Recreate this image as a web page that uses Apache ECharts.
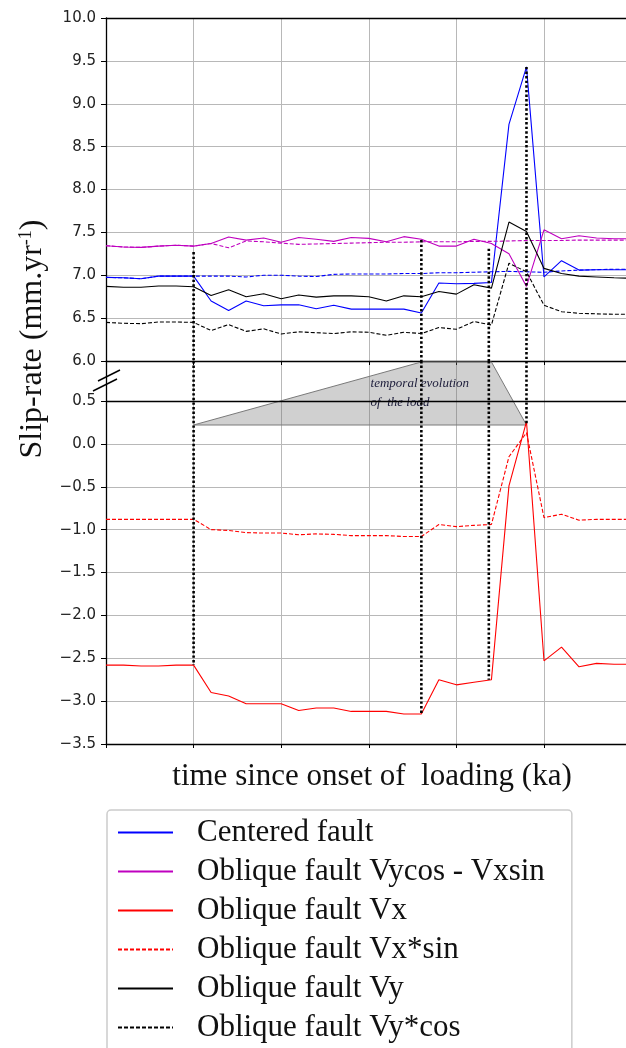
<!DOCTYPE html>
<html>
<head>
<meta charset="utf-8">
<script src="https://cdn.jsdelivr.net/npm/echarts@6/dist/echarts.min.js"></script>
<style>
html, body { margin: 0; padding: 0; background: #fff; }
#chart { width: 626px; height: 1048px; }
</style>
</head>
<body>
<div id="chart"></div>
<script>
// time since onset of loading (one grid cell = 1 step, no labels on the axis)
var times = [0.0, 0.2, 0.4, 0.6, 0.8, 1.0, 1.2, 1.4, 1.6, 1.8, 2.0, 2.2, 2.4, 2.6, 2.8, 3.0,
	3.2, 3.4, 3.6, 3.8, 4.0, 4.2, 4.4, 4.6, 4.8, 5.0, 5.2, 5.4, 5.6, 5.8, 6.0];

// upper panel (mm/yr)
var centered = [6.975, 6.97, 6.96, 6.99, 6.99, 6.99, 6.70, 6.59, 6.70, 6.645, 6.655, 6.655, 6.61, 6.65, 6.605, 6.605,
	6.605, 6.605, 6.56, 6.91, 6.90, 6.905, 6.915, 8.76, 9.43, 6.98, 7.17, 7.06, 7.065, 7.065, 7.065];
var centeredDash = [6.975, 6.97, 6.96, 6.99, 6.99, 6.99, 6.99, 6.99, 6.98, 7.0, 7.0, 6.99, 6.985, 7.01, 7.015, 7.015,
	7.015, 7.02, 7.02, 7.03, 7.03, 7.035, 7.04, 7.045, 7.04, 7.035, 7.05, 7.06, 7.065, 7.07, 7.07];
var obliqueVycos = [7.344, 7.33, 7.325, 7.34, 7.35, 7.34, 7.37, 7.446, 7.41, 7.435, 7.385, 7.44, 7.42, 7.395, 7.44, 7.43,
	7.39, 7.45, 7.42, 7.34, 7.34, 7.42, 7.37, 7.25, 6.87, 7.53, 7.425, 7.46, 7.435, 7.425, 7.425];
var obliqueVycosDash = [7.344, 7.33, 7.325, 7.34, 7.35, 7.34, 7.37, 7.32, 7.40, 7.39, 7.375, 7.36, 7.365, 7.37, 7.375, 7.38,
	7.385, 7.385, 7.39, 7.39, 7.39, 7.395, 7.395, 7.40, 7.405, 7.405, 7.405, 7.41, 7.41, 7.41, 7.41];
var obliqueVy = [6.87, 6.86, 6.86, 6.875, 6.875, 6.866, 6.765, 6.83, 6.75, 6.785, 6.726, 6.77, 6.745, 6.76, 6.76, 6.75,
	6.70, 6.76, 6.75, 6.81, 6.78, 6.89, 6.85, 7.62, 7.51, 7.08, 7.02, 6.99, 6.98, 6.97, 6.965];
var obliqueVyCos = [6.45, 6.44, 6.435, 6.455, 6.455, 6.45, 6.355, 6.425, 6.345, 6.375, 6.315, 6.34, 6.33, 6.32, 6.34, 6.335,
	6.30, 6.335, 6.32, 6.39, 6.37, 6.46, 6.42, 7.14, 7.04, 6.65, 6.575, 6.556, 6.55, 6.545, 6.545];

// lower panel (mm/yr)
var obliqueVx = [-2.58, -2.58, -2.59, -2.59, -2.58, -2.58, -2.90, -2.94, -3.03, -3.03, -3.03, -3.11, -3.08, -3.08, -3.12, -3.12,
	-3.12, -3.15, -3.15, -2.75, -2.81, -2.78, -2.75, -0.49, 0.26, -2.53, -2.37, -2.60, -2.56, -2.57, -2.57];
var obliqueVxSin = [-0.88, -0.88, -0.88, -0.88, -0.88, -0.88, -1.00, -1.01, -1.035, -1.04, -1.04, -1.06, -1.05, -1.055, -1.07, -1.07,
	-1.07, -1.08, -1.08, -0.94, -0.965, -0.95, -0.94, -0.15, 0.13, -0.86, -0.82, -0.89, -0.88, -0.88, -0.88];

// dotted guides: time, value on upper panel, value on lower panel
var guideTimes = [1.0, 3.6, 4.37, 4.8];
var guideTop = [7.27, 7.41, 7.31, 9.43];
var guideBottom = [-2.58, -3.15, -2.75, 0.22];

// grey load sketch (lower panel units)
var loadTimes = [1.0, 3.6, 4.4, 4.8];
var loadLevels = [0.22, 0.955, 0.955, 0.22];
var loadLabelAt = [3.02, 0.59];

var upperRange = [6, 10];
var lowerRange = [-3.5, 0.5];
var tickStep = 0.5;

var names = ['Centered fault', 'Oblique fault Vycos - Vxsin', 'Oblique fault Vx',
	'Oblique fault Vx*sin', 'Oblique fault Vy', 'Oblique fault Vy*cos'];

// layout
var LEFT = 106, TOP = 18, PANEL_H = 343, GAP = 40, WIDTH = 520, CELL = 87.6;
var XMAX = WIDTH / CELL;
// the lower panel runs up to the break, its labelled part stops at lowerRange[1]
var gapTopLow = lowerRange[1] + GAP / PANEL_H * (lowerRange[1] - lowerRange[0]);

var SERIF = '"Liberation Serif", "Times New Roman", serif';
var gridColor = '#b8b8b8';

function pairs(xs, ys) {
	return xs.map(function (x, i) { return [x, ys[i]]; });
}
function fmt(v) {
	return (v < 0 ? '\u2212' : '') + Math.abs(v).toFixed(1);
}

function lineSeries(name, values, color, dashed, panel) {
	return {
		name: name,
		type: 'line',
		xAxisIndex: panel === 0 ? 0 : 2,
		yAxisIndex: panel,
		data: pairs(times, values),
		symbol: 'none',
		lineStyle: { color: color, width: 1.1, type: dashed ? [4, 2] : 'solid' },
		itemStyle: { color: color },
		z: 3
	};
}

function xAxisFor(grid, pos) {
	var bottom = pos === 'bottom';
	return {
		type: 'value', gridIndex: grid, position: pos,
		min: 0, max: XMAX, interval: 1,
		axisLine: { show: true, onZero: false, lineStyle: { color: '#000', width: 1.3 } },
		axisTick: { show: bottom, length: 4, lineStyle: { color: '#000', width: 1 } },
		axisLabel: { show: false },
		splitLine: { show: bottom, lineStyle: { color: gridColor, width: 1 } }
	};
}
function yAxisFor(grid, min, max) {
	return {
		type: 'value', gridIndex: grid,
		min: min, max: max, interval: tickStep,
		axisLine: { show: true, onZero: false, lineStyle: { color: '#000', width: 1.3 } },
		axisTick: { show: true, length: 5, lineStyle: { color: '#000', width: 1 } },
		axisLabel: { margin: 10, formatter: fmt, fontFamily: 'DejaVu Sans', fontSize: 15, color: '#222' },
		splitLine: { show: true, lineStyle: { color: gridColor, width: 1 } }
	};
}

var series = [
	lineSeries(names[0], centered, '#0000ff', false, 0),
	lineSeries('Centered fault (dashed)', centeredDash, '#0000ff', true, 0),
	lineSeries(names[1], obliqueVycos, '#bf00bf', false, 0),
	lineSeries('Oblique fault Vycos - Vxsin (dashed)', obliqueVycosDash, '#bf00bf', true, 0),
	lineSeries(names[2], obliqueVx, '#ff0000', false, 1),
	lineSeries(names[3], obliqueVxSin, '#ff0000', true, 1),
	lineSeries(names[4], obliqueVy, '#000000', false, 0),
	lineSeries(names[5], obliqueVyCos, '#000000', true, 0)
];

// black frame line at the top of the labelled lower range
series[4].markLine = {
	silent: true, symbol: 'none', label: { show: false },
	lineStyle: { color: '#000', width: 1.3, type: 'solid' },
	data: [{ yAxis: lowerRange[1] }]
};

// grey load sketch behind the curves
series.push({
	type: 'custom', name: 'load', xAxisIndex: 2, yAxisIndex: 1, clip: false, silent: true, z: 1,
	data: [[0, 0]],
	renderItem: function (params, api) {
		var pts = loadTimes.map(function (t, i) { return api.coord([t, loadLevels[i]]); });
		var at = api.coord(loadLabelAt);
		return {
			type: 'group',
			children: [{
				type: 'polygon',
				shape: { points: pts },
				style: { fill: 'rgba(110,110,110,0.32)', stroke: '#7a7a7a', lineWidth: 1 }
			}, {
				type: 'text',
				x: at[0], y: at[1],
				style: {
					text: 'temporal evolution\nof  the load',
					font: 'italic 13px ' + SERIF,
					fill: '#1c1c3a', align: 'left', verticalAlign: 'middle', lineHeight: 19
				}
			}]
		};
	}
});

// dotted guides, upper part and lower part
guideTimes.forEach(function (t, i) {
	var dotted = { color: '#000', width: 2.6, type: [2.4, 2.2] };
	series.push({
		type: 'line', name: 'guide', xAxisIndex: 0, yAxisIndex: 0, symbol: 'none', silent: true, z: 5,
		data: [[t, guideTop[i]], [t, upperRange[0]]], lineStyle: dotted
	});
	series.push({
		type: 'line', name: 'guide', xAxisIndex: 2, yAxisIndex: 1, symbol: 'none', silent: true, z: 5,
		data: [[t, gapTopLow], [t, guideBottom[i]]], lineStyle: dotted
	});
});

var lowerTop = TOP + PANEL_H;

var lowerY = yAxisFor(1, lowerRange[0], gapTopLow);
lowerY.axisLabel.showMaxLabel = false;

var option = {
	animation: false,
	backgroundColor: '#fff',
	grid: [
		{ left: LEFT, top: TOP, width: WIDTH, height: PANEL_H },
		{ left: LEFT, top: lowerTop, width: WIDTH, height: PANEL_H + GAP }
	],
	xAxis: [
		xAxisFor(0, 'bottom'),
		xAxisFor(0, 'top'),
		Object.assign(xAxisFor(1, 'bottom'), {
			name: 'time since onset of  loading (ka)',
			nameLocation: 'middle', nameGap: 17,
			nameTextStyle: { fontFamily: SERIF, fontSize: 31, color: '#111', padding: [0, 0, 0, 12] }
		})
	],
	yAxis: [yAxisFor(0, upperRange[0], upperRange[1]), lowerY],
	legend: {
		data: names,
		orient: 'vertical',
		left: 107, top: 810, height: 300,
		padding: [7, 27, 40, 10],
		itemWidth: 55, itemHeight: 14, itemGap: 8,
		borderColor: '#cccccc', borderWidth: 1.5, borderRadius: 4,
		backgroundColor: '#fff',
		itemStyle: { opacity: 0 },
		textStyle: { fontFamily: SERIF, fontSize: 31, color: '#111', lineHeight: 30, padding: [0, 0, 0, 19] }
	},
	graphic: [
		// axis break marks on the left spine
		{ type: 'line', shape: { x1: 98, y1: 381, x2: 120, y2: 370 }, style: { stroke: '#000', lineWidth: 1.4 } },
		{ type: 'line', shape: { x1: 93, y1: 391, x2: 117, y2: 379 }, style: { stroke: '#000', lineWidth: 1.4 } },
		{
			type: 'text', x: 33, y: 339, rotation: Math.PI / 2,
			style: {
				text: '{a|Slip-rate (mm.yr}{s|-1}{a|)}',
				align: 'center', verticalAlign: 'middle',
				rich: {
					a: { fontFamily: SERIF, fontSize: 32, fill: '#111' },
					s: { fontFamily: SERIF, fontSize: 18, fill: '#111', padding: [0, 0, 14, 0] }
				}
			}
		}
	],
	series: series
};

var chart = echarts.init(document.getElementById('chart'));
chart.setOption(option);
</script>
</body>
</html>
